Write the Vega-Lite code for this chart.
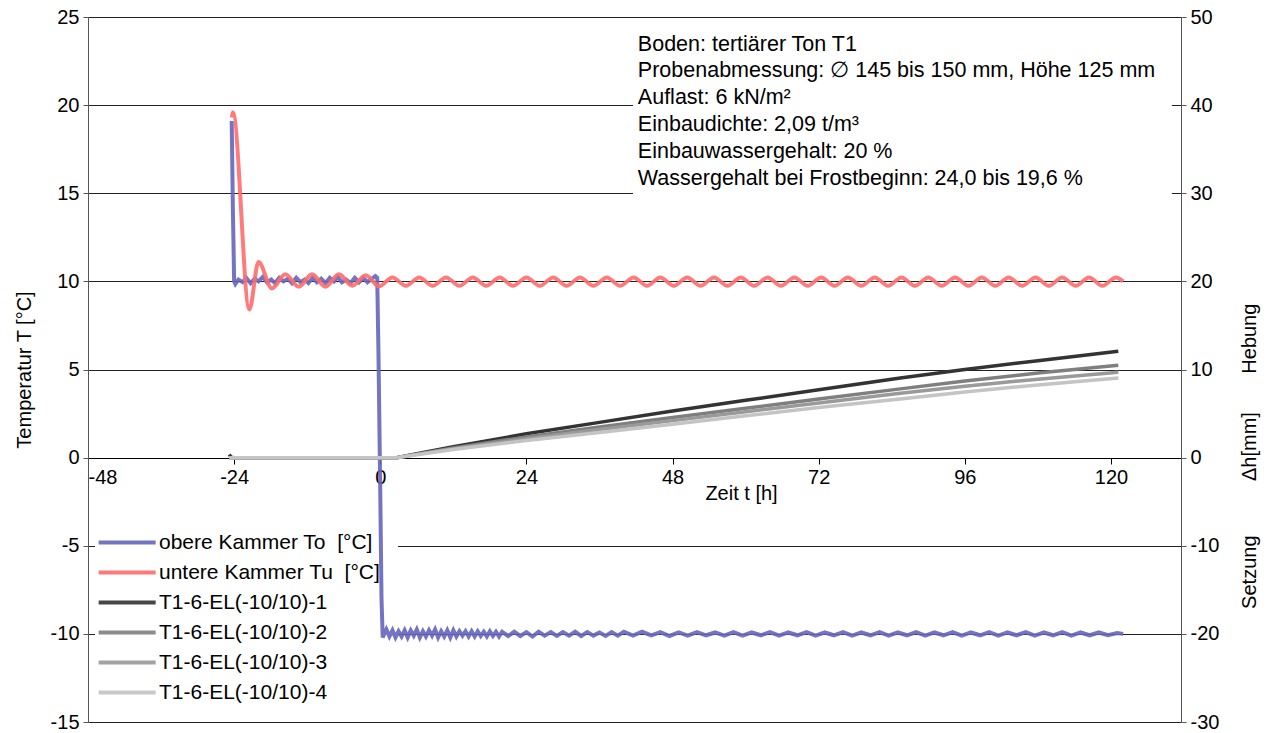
{
  "$schema": "https://vega.github.io/schema/vega-lite/v6.json",
  "width": 1093,
  "height": 705,
  "autosize": {"type": "none"},
  "padding": {"left": 88, "top": 17, "right": 90, "bottom": 11},
  "background": "white",
  "config": {
    "font": "Liberation Sans",
    "view": {"stroke": null},
    "axis": {"labelFont": "Liberation Sans", "titleFont": "Liberation Sans", "labelColor": "black", "titleColor": "black", "titleFontWeight": "normal"}
  },
  "datasets": {
    "blue": [
      {"t": -24.4, "v": 19.1, "s": "obere Kammer To \u00a0[°C]"},
      {"t": -24.2, "v": 14.0, "s": "obere Kammer To \u00a0[°C]"},
      {"t": -24.0, "v": 10.0, "s": "obere Kammer To \u00a0[°C]"},
      {"t": -23.8, "v": 9.85, "s": "obere Kammer To \u00a0[°C]"},
      {"t": -23.3, "v": 10.1, "s": "obere Kammer To \u00a0[°C]"},
      {"t": -22.6, "v": 9.95, "s": "obere Kammer To \u00a0[°C]"},
      {"t": -22.0, "v": 10.2, "s": "obere Kammer To \u00a0[°C]"},
      {"t": -21.3, "v": 9.9, "s": "obere Kammer To \u00a0[°C]"},
      {"t": -20.6, "v": 10.15, "s": "obere Kammer To \u00a0[°C]"},
      {"t": -20.0, "v": 10.0, "s": "obere Kammer To \u00a0[°C]"},
      {"t": -19.3, "v": 10.25, "s": "obere Kammer To \u00a0[°C]"},
      {"t": -18.6, "v": 9.95, "s": "obere Kammer To \u00a0[°C]"},
      {"t": -17.9, "v": 10.1, "s": "obere Kammer To \u00a0[°C]"},
      {"t": -17.3, "v": 9.9, "s": "obere Kammer To \u00a0[°C]"},
      {"t": -16.6, "v": 10.2, "s": "obere Kammer To \u00a0[°C]"},
      {"t": -15.9, "v": 10.0, "s": "obere Kammer To \u00a0[°C]"},
      {"t": -15.2, "v": 10.15, "s": "obere Kammer To \u00a0[°C]"},
      {"t": -14.5, "v": 9.9, "s": "obere Kammer To \u00a0[°C]"},
      {"t": -13.8, "v": 10.2, "s": "obere Kammer To \u00a0[°C]"},
      {"t": -13.1, "v": 9.95, "s": "obere Kammer To \u00a0[°C]"},
      {"t": -12.4, "v": 10.1, "s": "obere Kammer To \u00a0[°C]"},
      {"t": -11.8, "v": 9.9, "s": "obere Kammer To \u00a0[°C]"},
      {"t": -11.1, "v": 10.2, "s": "obere Kammer To \u00a0[°C]"},
      {"t": -10.4, "v": 9.95, "s": "obere Kammer To \u00a0[°C]"},
      {"t": -9.7, "v": 10.15, "s": "obere Kammer To \u00a0[°C]"},
      {"t": -9.0, "v": 9.9, "s": "obere Kammer To \u00a0[°C]"},
      {"t": -8.3, "v": 10.2, "s": "obere Kammer To \u00a0[°C]"},
      {"t": -7.6, "v": 10.0, "s": "obere Kammer To \u00a0[°C]"},
      {"t": -7.0, "v": 10.25, "s": "obere Kammer To \u00a0[°C]"},
      {"t": -6.3, "v": 9.95, "s": "obere Kammer To \u00a0[°C]"},
      {"t": -5.6, "v": 10.1, "s": "obere Kammer To \u00a0[°C]"},
      {"t": -4.9, "v": 9.9, "s": "obere Kammer To \u00a0[°C]"},
      {"t": -4.2, "v": 10.2, "s": "obere Kammer To \u00a0[°C]"},
      {"t": -3.5, "v": 9.95, "s": "obere Kammer To \u00a0[°C]"},
      {"t": -2.8, "v": 10.2, "s": "obere Kammer To \u00a0[°C]"},
      {"t": -2.1, "v": 9.95, "s": "obere Kammer To \u00a0[°C]"},
      {"t": -1.4, "v": 10.15, "s": "obere Kammer To \u00a0[°C]"},
      {"t": -0.8, "v": 10.3, "s": "obere Kammer To \u00a0[°C]"},
      {"t": -0.5, "v": 10.2, "s": "obere Kammer To \u00a0[°C]"},
      {"t": -0.3, "v": 6.0, "s": "obere Kammer To \u00a0[°C]"},
      {"t": 0.0, "v": -2.0, "s": "obere Kammer To \u00a0[°C]"},
      {"t": 0.2, "v": -8.0, "s": "obere Kammer To \u00a0[°C]"},
      {"t": 0.4, "v": -10.2, "s": "obere Kammer To \u00a0[°C]"},
      {"t": 1, "v": -9.75, "s": "obere Kammer To \u00a0[°C]"},
      {"t": 1.5, "v": -10.15, "s": "obere Kammer To \u00a0[°C]"},
      {"t": 2, "v": -9.8, "s": "obere Kammer To \u00a0[°C]"},
      {"t": 2.5, "v": -10.2, "s": "obere Kammer To \u00a0[°C]"},
      {"t": 3, "v": -9.85, "s": "obere Kammer To \u00a0[°C]"},
      {"t": 3.5, "v": -10.15, "s": "obere Kammer To \u00a0[°C]"},
      {"t": 4, "v": -9.8, "s": "obere Kammer To \u00a0[°C]"},
      {"t": 4.5, "v": -10.2, "s": "obere Kammer To \u00a0[°C]"},
      {"t": 5, "v": -9.8, "s": "obere Kammer To \u00a0[°C]"},
      {"t": 5.5, "v": -10.1, "s": "obere Kammer To \u00a0[°C]"},
      {"t": 6, "v": -9.75, "s": "obere Kammer To \u00a0[°C]"},
      {"t": 6.5, "v": -10.2, "s": "obere Kammer To \u00a0[°C]"},
      {"t": 7, "v": -9.85, "s": "obere Kammer To \u00a0[°C]"},
      {"t": 7.5, "v": -10.15, "s": "obere Kammer To \u00a0[°C]"},
      {"t": 8, "v": -9.8, "s": "obere Kammer To \u00a0[°C]"},
      {"t": 8.5, "v": -10.1, "s": "obere Kammer To \u00a0[°C]"},
      {"t": 9, "v": -9.75, "s": "obere Kammer To \u00a0[°C]"},
      {"t": 9.5, "v": -10.2, "s": "obere Kammer To \u00a0[°C]"},
      {"t": 10, "v": -9.85, "s": "obere Kammer To \u00a0[°C]"},
      {"t": 10.5, "v": -10.15, "s": "obere Kammer To \u00a0[°C]"},
      {"t": 11, "v": -9.8, "s": "obere Kammer To \u00a0[°C]"},
      {"t": 11.5, "v": -10.2, "s": "obere Kammer To \u00a0[°C]"},
      {"t": 12, "v": -9.8, "s": "obere Kammer To \u00a0[°C]"},
      {"t": 12.5, "v": -10.15, "s": "obere Kammer To \u00a0[°C]"},
      {"t": 13, "v": -9.85, "s": "obere Kammer To \u00a0[°C]"},
      {"t": 13.5, "v": -10.1, "s": "obere Kammer To \u00a0[°C]"},
      {"t": 14, "v": -9.85, "s": "obere Kammer To \u00a0[°C]"},
      {"t": 14.5, "v": -10.15, "s": "obere Kammer To \u00a0[°C]"},
      {"t": 15, "v": -9.85, "s": "obere Kammer To \u00a0[°C]"},
      {"t": 15.5, "v": -10.15, "s": "obere Kammer To \u00a0[°C]"},
      {"t": 16, "v": -9.85, "s": "obere Kammer To \u00a0[°C]"},
      {"t": 16.5, "v": -10.12, "s": "obere Kammer To \u00a0[°C]"},
      {"t": 17, "v": -9.88, "s": "obere Kammer To \u00a0[°C]"},
      {"t": 17.5, "v": -10.15, "s": "obere Kammer To \u00a0[°C]"},
      {"t": 18, "v": -9.85, "s": "obere Kammer To \u00a0[°C]"},
      {"t": 18.5, "v": -10.12, "s": "obere Kammer To \u00a0[°C]"},
      {"t": 19, "v": -9.88, "s": "obere Kammer To \u00a0[°C]"},
      {"t": 19.5, "v": -10.15, "s": "obere Kammer To \u00a0[°C]"},
      {"t": 20, "v": -9.88, "s": "obere Kammer To \u00a0[°C]"},
      {"t": 21, "v": -10.12, "s": "obere Kammer To \u00a0[°C]"},
      {"t": 22, "v": -9.88, "s": "obere Kammer To \u00a0[°C]"},
      {"t": 23, "v": -10.12, "s": "obere Kammer To \u00a0[°C]"},
      {"t": 24, "v": -9.9, "s": "obere Kammer To \u00a0[°C]"},
      {"t": 25, "v": -10.15, "s": "obere Kammer To \u00a0[°C]"},
      {"t": 26, "v": -9.88, "s": "obere Kammer To \u00a0[°C]"},
      {"t": 27, "v": -10.1, "s": "obere Kammer To \u00a0[°C]"},
      {"t": 28, "v": -9.9, "s": "obere Kammer To \u00a0[°C]"},
      {"t": 29, "v": -10.12, "s": "obere Kammer To \u00a0[°C]"},
      {"t": 30, "v": -9.9, "s": "obere Kammer To \u00a0[°C]"},
      {"t": 31, "v": -10.1, "s": "obere Kammer To \u00a0[°C]"},
      {"t": 32, "v": -9.88, "s": "obere Kammer To \u00a0[°C]"},
      {"t": 33, "v": -10.12, "s": "obere Kammer To \u00a0[°C]"},
      {"t": 34, "v": -9.9, "s": "obere Kammer To \u00a0[°C]"},
      {"t": 35, "v": -10.1, "s": "obere Kammer To \u00a0[°C]"},
      {"t": 36, "v": -9.92, "s": "obere Kammer To \u00a0[°C]"},
      {"t": 37, "v": -10.12, "s": "obere Kammer To \u00a0[°C]"},
      {"t": 38, "v": -9.9, "s": "obere Kammer To \u00a0[°C]"},
      {"t": 39, "v": -10.1, "s": "obere Kammer To \u00a0[°C]"},
      {"t": 40, "v": -9.88, "s": "obere Kammer To \u00a0[°C]"},
      {"t": 41.5, "v": -10.1, "s": "obere Kammer To \u00a0[°C]"},
      {"t": 43, "v": -9.88, "s": "obere Kammer To \u00a0[°C]"},
      {"t": 44.5, "v": -10.08, "s": "obere Kammer To \u00a0[°C]"},
      {"t": 46, "v": -9.9, "s": "obere Kammer To \u00a0[°C]"},
      {"t": 47.5, "v": -10.12, "s": "obere Kammer To \u00a0[°C]"},
      {"t": 49, "v": -9.92, "s": "obere Kammer To \u00a0[°C]"},
      {"t": 50.5, "v": -10.1, "s": "obere Kammer To \u00a0[°C]"},
      {"t": 52, "v": -9.9, "s": "obere Kammer To \u00a0[°C]"},
      {"t": 53.5, "v": -10.08, "s": "obere Kammer To \u00a0[°C]"},
      {"t": 55, "v": -9.92, "s": "obere Kammer To \u00a0[°C]"},
      {"t": 56.5, "v": -10.1, "s": "obere Kammer To \u00a0[°C]"},
      {"t": 58, "v": -9.9, "s": "obere Kammer To \u00a0[°C]"},
      {"t": 59.5, "v": -10.1, "s": "obere Kammer To \u00a0[°C]"},
      {"t": 61, "v": -9.92, "s": "obere Kammer To \u00a0[°C]"},
      {"t": 62.5, "v": -10.08, "s": "obere Kammer To \u00a0[°C]"},
      {"t": 64, "v": -9.9, "s": "obere Kammer To \u00a0[°C]"},
      {"t": 65.5, "v": -10.1, "s": "obere Kammer To \u00a0[°C]"},
      {"t": 67, "v": -9.92, "s": "obere Kammer To \u00a0[°C]"},
      {"t": 68.5, "v": -10.08, "s": "obere Kammer To \u00a0[°C]"},
      {"t": 70, "v": -9.9, "s": "obere Kammer To \u00a0[°C]"},
      {"t": 71.5, "v": -10.1, "s": "obere Kammer To \u00a0[°C]"},
      {"t": 73, "v": -9.92, "s": "obere Kammer To \u00a0[°C]"},
      {"t": 74.5, "v": -10.08, "s": "obere Kammer To \u00a0[°C]"},
      {"t": 76, "v": -9.9, "s": "obere Kammer To \u00a0[°C]"},
      {"t": 77.5, "v": -10.1, "s": "obere Kammer To \u00a0[°C]"},
      {"t": 79, "v": -9.92, "s": "obere Kammer To \u00a0[°C]"},
      {"t": 80.5, "v": -10.08, "s": "obere Kammer To \u00a0[°C]"},
      {"t": 82, "v": -9.9, "s": "obere Kammer To \u00a0[°C]"},
      {"t": 83.5, "v": -10.1, "s": "obere Kammer To \u00a0[°C]"},
      {"t": 85, "v": -9.92, "s": "obere Kammer To \u00a0[°C]"},
      {"t": 86.5, "v": -10.08, "s": "obere Kammer To \u00a0[°C]"},
      {"t": 88, "v": -9.9, "s": "obere Kammer To \u00a0[°C]"},
      {"t": 89.5, "v": -10.1, "s": "obere Kammer To \u00a0[°C]"},
      {"t": 91, "v": -9.92, "s": "obere Kammer To \u00a0[°C]"},
      {"t": 92.5, "v": -10.08, "s": "obere Kammer To \u00a0[°C]"},
      {"t": 94, "v": -9.9, "s": "obere Kammer To \u00a0[°C]"},
      {"t": 95.5, "v": -10.1, "s": "obere Kammer To \u00a0[°C]"},
      {"t": 97, "v": -9.92, "s": "obere Kammer To \u00a0[°C]"},
      {"t": 98.5, "v": -10.08, "s": "obere Kammer To \u00a0[°C]"},
      {"t": 100, "v": -9.9, "s": "obere Kammer To \u00a0[°C]"},
      {"t": 101.5, "v": -10.1, "s": "obere Kammer To \u00a0[°C]"},
      {"t": 103, "v": -9.92, "s": "obere Kammer To \u00a0[°C]"},
      {"t": 104.5, "v": -10.08, "s": "obere Kammer To \u00a0[°C]"},
      {"t": 106, "v": -9.9, "s": "obere Kammer To \u00a0[°C]"},
      {"t": 107.5, "v": -10.1, "s": "obere Kammer To \u00a0[°C]"},
      {"t": 109, "v": -9.92, "s": "obere Kammer To \u00a0[°C]"},
      {"t": 110.5, "v": -10.08, "s": "obere Kammer To \u00a0[°C]"},
      {"t": 112, "v": -9.9, "s": "obere Kammer To \u00a0[°C]"},
      {"t": 113.5, "v": -10.1, "s": "obere Kammer To \u00a0[°C]"},
      {"t": 115, "v": -9.92, "s": "obere Kammer To \u00a0[°C]"},
      {"t": 116.5, "v": -10.08, "s": "obere Kammer To \u00a0[°C]"},
      {"t": 118, "v": -9.92, "s": "obere Kammer To \u00a0[°C]"},
      {"t": 119.5, "v": -10.08, "s": "obere Kammer To \u00a0[°C]"},
      {"t": 121, "v": -9.95, "s": "obere Kammer To \u00a0[°C]"},
      {"t": 122, "v": -10.0, "s": "obere Kammer To \u00a0[°C]"}
    ],
    "red": [
      {"t": -24.4, "v": 19.3, "s": "untere Kammer Tu \u00a0[°C]"},
      {"t": -24.2, "v": 19.6, "s": "untere Kammer Tu \u00a0[°C]"},
      {"t": -21.5, "v": 8.4, "s": "untere Kammer Tu \u00a0[°C]"},
      {"t": -20.0, "v": 11.1, "s": "untere Kammer Tu \u00a0[°C]"},
      {"t": -17.8, "v": 9.6, "s": "untere Kammer Tu \u00a0[°C]"},
      {"t": -15.6, "v": 10.4, "s": "untere Kammer Tu \u00a0[°C]"},
      {"t": -13.4, "v": 9.7, "s": "untere Kammer Tu \u00a0[°C]"},
      {"t": -11.2, "v": 10.4, "s": "untere Kammer Tu \u00a0[°C]"},
      {"t": -9.0, "v": 9.7, "s": "untere Kammer Tu \u00a0[°C]"},
      {"t": -6.8, "v": 10.4, "s": "untere Kammer Tu \u00a0[°C]"},
      {"t": -4.6, "v": 9.75, "s": "untere Kammer Tu \u00a0[°C]"},
      {"t": -2.4, "v": 10.35, "s": "untere Kammer Tu \u00a0[°C]"},
      {"t": -0.2, "v": 9.72, "s": "untere Kammer Tu \u00a0[°C]"},
      {"t": 2.0, "v": 10.22, "s": "untere Kammer Tu \u00a0[°C]"},
      {"t": 4.2, "v": 9.75, "s": "untere Kammer Tu \u00a0[°C]"},
      {"t": 6.4, "v": 10.22, "s": "untere Kammer Tu \u00a0[°C]"},
      {"t": 8.6, "v": 9.75, "s": "untere Kammer Tu \u00a0[°C]"},
      {"t": 10.8, "v": 10.22, "s": "untere Kammer Tu \u00a0[°C]"},
      {"t": 13.0, "v": 9.75, "s": "untere Kammer Tu \u00a0[°C]"},
      {"t": 15.2, "v": 10.22, "s": "untere Kammer Tu \u00a0[°C]"},
      {"t": 17.4, "v": 9.75, "s": "untere Kammer Tu \u00a0[°C]"},
      {"t": 19.6, "v": 10.22, "s": "untere Kammer Tu \u00a0[°C]"},
      {"t": 21.8, "v": 9.75, "s": "untere Kammer Tu \u00a0[°C]"},
      {"t": 24.0, "v": 10.22, "s": "untere Kammer Tu \u00a0[°C]"},
      {"t": 26.2, "v": 9.75, "s": "untere Kammer Tu \u00a0[°C]"},
      {"t": 28.4, "v": 10.22, "s": "untere Kammer Tu \u00a0[°C]"},
      {"t": 30.6, "v": 9.75, "s": "untere Kammer Tu \u00a0[°C]"},
      {"t": 32.8, "v": 10.22, "s": "untere Kammer Tu \u00a0[°C]"},
      {"t": 35.0, "v": 9.75, "s": "untere Kammer Tu \u00a0[°C]"},
      {"t": 37.2, "v": 10.22, "s": "untere Kammer Tu \u00a0[°C]"},
      {"t": 39.4, "v": 9.75, "s": "untere Kammer Tu \u00a0[°C]"},
      {"t": 41.6, "v": 10.22, "s": "untere Kammer Tu \u00a0[°C]"},
      {"t": 43.8, "v": 9.75, "s": "untere Kammer Tu \u00a0[°C]"},
      {"t": 46.0, "v": 10.22, "s": "untere Kammer Tu \u00a0[°C]"},
      {"t": 48.2, "v": 9.75, "s": "untere Kammer Tu \u00a0[°C]"},
      {"t": 50.4, "v": 10.22, "s": "untere Kammer Tu \u00a0[°C]"},
      {"t": 52.6, "v": 9.75, "s": "untere Kammer Tu \u00a0[°C]"},
      {"t": 54.8, "v": 10.22, "s": "untere Kammer Tu \u00a0[°C]"},
      {"t": 57.0, "v": 9.75, "s": "untere Kammer Tu \u00a0[°C]"},
      {"t": 59.2, "v": 10.22, "s": "untere Kammer Tu \u00a0[°C]"},
      {"t": 61.4, "v": 9.75, "s": "untere Kammer Tu \u00a0[°C]"},
      {"t": 63.6, "v": 10.22, "s": "untere Kammer Tu \u00a0[°C]"},
      {"t": 65.8, "v": 9.75, "s": "untere Kammer Tu \u00a0[°C]"},
      {"t": 68.0, "v": 10.22, "s": "untere Kammer Tu \u00a0[°C]"},
      {"t": 70.2, "v": 9.75, "s": "untere Kammer Tu \u00a0[°C]"},
      {"t": 72.4, "v": 10.22, "s": "untere Kammer Tu \u00a0[°C]"},
      {"t": 74.6, "v": 9.75, "s": "untere Kammer Tu \u00a0[°C]"},
      {"t": 76.8, "v": 10.22, "s": "untere Kammer Tu \u00a0[°C]"},
      {"t": 79.0, "v": 9.75, "s": "untere Kammer Tu \u00a0[°C]"},
      {"t": 81.2, "v": 10.22, "s": "untere Kammer Tu \u00a0[°C]"},
      {"t": 83.4, "v": 9.75, "s": "untere Kammer Tu \u00a0[°C]"},
      {"t": 85.6, "v": 10.22, "s": "untere Kammer Tu \u00a0[°C]"},
      {"t": 87.8, "v": 9.75, "s": "untere Kammer Tu \u00a0[°C]"},
      {"t": 90.0, "v": 10.22, "s": "untere Kammer Tu \u00a0[°C]"},
      {"t": 92.2, "v": 9.75, "s": "untere Kammer Tu \u00a0[°C]"},
      {"t": 94.4, "v": 10.22, "s": "untere Kammer Tu \u00a0[°C]"},
      {"t": 96.6, "v": 9.75, "s": "untere Kammer Tu \u00a0[°C]"},
      {"t": 98.8, "v": 10.22, "s": "untere Kammer Tu \u00a0[°C]"},
      {"t": 101.0, "v": 9.75, "s": "untere Kammer Tu \u00a0[°C]"},
      {"t": 103.2, "v": 10.22, "s": "untere Kammer Tu \u00a0[°C]"},
      {"t": 105.4, "v": 9.75, "s": "untere Kammer Tu \u00a0[°C]"},
      {"t": 107.6, "v": 10.22, "s": "untere Kammer Tu \u00a0[°C]"},
      {"t": 109.8, "v": 9.75, "s": "untere Kammer Tu \u00a0[°C]"},
      {"t": 112.0, "v": 10.22, "s": "untere Kammer Tu \u00a0[°C]"},
      {"t": 114.2, "v": 9.75, "s": "untere Kammer Tu \u00a0[°C]"},
      {"t": 116.4, "v": 10.22, "s": "untere Kammer Tu \u00a0[°C]"},
      {"t": 118.6, "v": 9.75, "s": "untere Kammer Tu \u00a0[°C]"},
      {"t": 120.8, "v": 10.22, "s": "untere Kammer Tu \u00a0[°C]"},
      {"t": 122.0, "v": 10.0, "s": "untere Kammer Tu \u00a0[°C]"}
    ],
    "setz": [
      {"t": -24.8, "v": 0.35, "s": "T1-6-EL(-10/10)-1"},
      {"t": -24.5, "v": 0.05, "s": "T1-6-EL(-10/10)-1"},
      {"t": -24.0, "v": 0.0, "s": "T1-6-EL(-10/10)-1"},
      {"t": 2.7, "v": 0.0, "s": "T1-6-EL(-10/10)-1"},
      {"t": 6, "v": 0.45, "s": "T1-6-EL(-10/10)-1"},
      {"t": 12, "v": 1.25, "s": "T1-6-EL(-10/10)-1"},
      {"t": 24, "v": 2.7, "s": "T1-6-EL(-10/10)-1"},
      {"t": 36, "v": 4.0, "s": "T1-6-EL(-10/10)-1"},
      {"t": 48, "v": 5.3, "s": "T1-6-EL(-10/10)-1"},
      {"t": 60, "v": 6.5, "s": "T1-6-EL(-10/10)-1"},
      {"t": 72, "v": 7.7, "s": "T1-6-EL(-10/10)-1"},
      {"t": 85.4, "v": 9.04, "s": "T1-6-EL(-10/10)-1"},
      {"t": 96, "v": 10.0, "s": "T1-6-EL(-10/10)-1"},
      {"t": 108, "v": 11.0, "s": "T1-6-EL(-10/10)-1"},
      {"t": 121.2, "v": 12.06, "s": "T1-6-EL(-10/10)-1"},
      {"t": -24.8, "v": 0.0, "s": "T1-6-EL(-10/10)-2"},
      {"t": 2.7, "v": 0.0, "s": "T1-6-EL(-10/10)-2"},
      {"t": 6, "v": 0.4, "s": "T1-6-EL(-10/10)-2"},
      {"t": 12, "v": 1.1, "s": "T1-6-EL(-10/10)-2"},
      {"t": 24, "v": 2.35, "s": "T1-6-EL(-10/10)-2"},
      {"t": 36, "v": 3.48, "s": "T1-6-EL(-10/10)-2"},
      {"t": 48, "v": 4.55, "s": "T1-6-EL(-10/10)-2"},
      {"t": 60, "v": 5.6, "s": "T1-6-EL(-10/10)-2"},
      {"t": 72, "v": 6.65, "s": "T1-6-EL(-10/10)-2"},
      {"t": 85.4, "v": 7.8, "s": "T1-6-EL(-10/10)-2"},
      {"t": 96, "v": 8.7, "s": "T1-6-EL(-10/10)-2"},
      {"t": 108, "v": 9.6, "s": "T1-6-EL(-10/10)-2"},
      {"t": 121.2, "v": 10.47, "s": "T1-6-EL(-10/10)-2"},
      {"t": -24.8, "v": 0.0, "s": "T1-6-EL(-10/10)-3"},
      {"t": 2.7, "v": 0.0, "s": "T1-6-EL(-10/10)-3"},
      {"t": 6, "v": 0.37, "s": "T1-6-EL(-10/10)-3"},
      {"t": 12, "v": 1.02, "s": "T1-6-EL(-10/10)-3"},
      {"t": 24, "v": 2.15, "s": "T1-6-EL(-10/10)-3"},
      {"t": 36, "v": 3.2, "s": "T1-6-EL(-10/10)-3"},
      {"t": 48, "v": 4.2, "s": "T1-6-EL(-10/10)-3"},
      {"t": 60, "v": 5.2, "s": "T1-6-EL(-10/10)-3"},
      {"t": 72, "v": 6.2, "s": "T1-6-EL(-10/10)-3"},
      {"t": 85.4, "v": 7.3, "s": "T1-6-EL(-10/10)-3"},
      {"t": 96, "v": 8.1, "s": "T1-6-EL(-10/10)-3"},
      {"t": 108, "v": 8.9, "s": "T1-6-EL(-10/10)-3"},
      {"t": 121.2, "v": 9.68, "s": "T1-6-EL(-10/10)-3"},
      {"t": -24.8, "v": 0.0, "s": "T1-6-EL(-10/10)-4"},
      {"t": 2.7, "v": 0.0, "s": "T1-6-EL(-10/10)-4"},
      {"t": 6, "v": 0.33, "s": "T1-6-EL(-10/10)-4"},
      {"t": 12, "v": 0.93, "s": "T1-6-EL(-10/10)-4"},
      {"t": 24, "v": 1.95, "s": "T1-6-EL(-10/10)-4"},
      {"t": 36, "v": 2.85, "s": "T1-6-EL(-10/10)-4"},
      {"t": 48, "v": 3.8, "s": "T1-6-EL(-10/10)-4"},
      {"t": 60, "v": 4.75, "s": "T1-6-EL(-10/10)-4"},
      {"t": 72, "v": 5.7, "s": "T1-6-EL(-10/10)-4"},
      {"t": 85.4, "v": 6.65, "s": "T1-6-EL(-10/10)-4"},
      {"t": 96, "v": 7.45, "s": "T1-6-EL(-10/10)-4"},
      {"t": 108, "v": 8.25, "s": "T1-6-EL(-10/10)-4"},
      {"t": 121.2, "v": 9.04, "s": "T1-6-EL(-10/10)-4"}
    ],
    "info": [
      {"t": 42.3, "v": 23.43, "txt": "Boden: tertiärer Ton T1"},
      {"t": 42.3, "v": 21.91, "txt": "Probenabmessung: ∅ 145 bis 150 mm, Höhe 125 mm"},
      {"t": 42.3, "v": 20.39, "txt": "Auflast: 6 kN/m²"},
      {"t": 42.3, "v": 18.87, "txt": "Einbaudichte: 2,09 t/m³"},
      {"t": 42.3, "v": 17.35, "txt": "Einbauwassergehalt: 20 %"},
      {"t": 42.3, "v": 15.83, "txt": "Wassergehalt bei Frostbeginn: 24,0 bis 19,6 %"}
    ],
    "box": [
      {"t1": 41.5, "t2": 130.0, "v1": 14.64, "v2": 24.45},
      {"t1": -46.85, "t2": 2.9, "v1": -14.41, "v2": -3.97}
    ],
    "rtitle": [
      {"t": 142.8, "v": 13.5, "txt": "Hebung"},
      {"t": 142.8, "v": 1.25, "txt": "Δh[mm]"},
      {"t": 142.8, "v": -13.0, "txt": "Setzung"}
    ]
  },
  "layer": [
    {
      "layer": [
        {
          "data": {"name": "box"},
          "mark": {"type": "rect", "fill": "white", "stroke": null},
          "encoding": {
            "x": {"field": "t1", "type": "quantitative", "scale": {"domain": [-48, 131.5], "nice": false, "zero": false}},
            "x2": {"field": "t2"},
            "y": {"field": "v1", "type": "quantitative", "scale": {"domain": [-15, 25], "nice": false, "zero": false},
              "axis": {"values": [-15, -10, -5, 0, 5, 10, 15, 20, 25], "labelExpr": "toString(datum.value)", "grid": true, "gridColor": "#222222", "gridWidth": 1,
                "labelFontSize": 20, "tickSize": 5, "tickColor": "#555555", "domainColor": "#555555", "labelPadding": 4,
                "title": "Temperatur T [°C]", "titleFontSize": 20, "titlePadding": 16}},
            "y2": {"field": "v2"}
          }
        },
        {
          "data": {"name": "blue"},
          "mark": {"type": "line", "strokeWidth": 4, "opacity": 0.9},
          "encoding": {
            "x": {"field": "t", "type": "quantitative",
              "axis": {"values": [-48, -24, 0, 24, 48, 72, 96, 120], "labelExpr": "toString(datum.value)", "offset": -264, "grid": false, "labelFontSize": 20,
                "tickSize": 6, "tickColor": "black", "domainColor": "black", "labelPadding": 3,
                "title": "Zeit t [h]", "titleFontSize": 20, "titleX": 653, "titleY": 25, "titleBaseline": "top"}},
            "y": {"field": "v", "type": "quantitative"},
            "color": {"field": "s", "type": "nominal", "sort": null,
              "scale": {"domain": ["obere Kammer To \u00a0[°C]", "untere Kammer Tu \u00a0[°C]", "T1-6-EL(-10/10)-1", "T1-6-EL(-10/10)-2", "T1-6-EL(-10/10)-3", "T1-6-EL(-10/10)-4"],
                "range": ["#6565bd", "#ff6b6b", "#333333", "#7f7f7f", "#9a9a9a", "#c4c4c4"]},
              "legend": {"orient": "none", "legendX": -2, "legendY": 510, "title": null, "padding": 5,
                "symbolType": "M-1,0H19", "symbolSize": 32.5, "symbolStrokeWidth": 4, "labelFontSize": 21, "labelOffset": 47,
                "labelLimit": 500, "rowPadding": 8, "labelColor": "black"}}
          }
        },
        {
          "data": {"name": "red"},
          "mark": {"type": "line", "strokeWidth": 4, "interpolate": "monotone", "opacity": 0.9},
          "encoding": {
            "x": {"field": "t", "type": "quantitative"},
            "y": {"field": "v", "type": "quantitative"},
            "color": {"field": "s", "type": "nominal", "sort": null}
          }
        },
        {
          "data": {"name": "info"},
          "mark": {"type": "text", "align": "left", "baseline": "middle", "fontSize": 21.5, "color": "black"},
          "encoding": {
            "x": {"field": "t", "type": "quantitative"},
            "y": {"field": "v", "type": "quantitative"},
            "text": {"field": "txt"}
          }
        }
      ]
    },
    {
      "layer": [
        {
          "data": {"name": "setz"},
          "mark": {"type": "line", "strokeWidth": 3.5},
          "encoding": {
            "x": {"field": "t", "type": "quantitative"},
            "y": {"field": "v", "type": "quantitative", "scale": {"domain": [-30, 50], "nice": false, "zero": false},
              "axis": {"orient": "right", "values": [-30, -20, -10, 0, 10, 20, 30, 40, 50], "labelExpr": "toString(datum.value)", "grid": false, "labelFontSize": 20,
                "tickSize": 5, "tickColor": "#555555", "domainColor": "#555555", "labelPadding": 4, "title": null}},
            "color": {"field": "s", "type": "nominal", "sort": null}
          }
        },
        {
          "data": {"name": "rtitle"},
          "mark": {"type": "text", "angle": 270, "align": "center", "baseline": "middle", "fontSize": 20, "color": "black"},
          "encoding": {
            "x": {"field": "t", "type": "quantitative"},
            "y": {"field": "v", "type": "quantitative"},
            "text": {"field": "txt"}
          }
        }
      ]
    }
  ],
  "resolve": {"scale": {"y": "independent"}, "axis": {"y": "independent"}}
}
